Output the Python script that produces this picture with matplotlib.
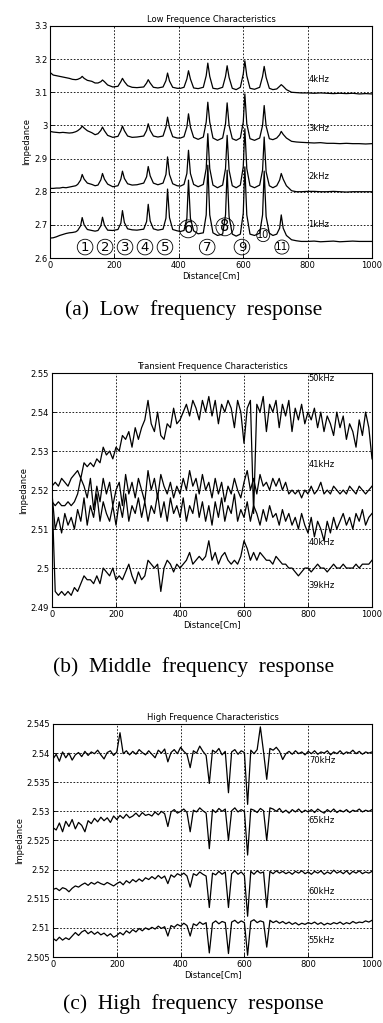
import matplotlib
matplotlib.use("Agg")
import matplotlib.pyplot as plt
import numpy as np
from matplotlib.ticker import FormatStrFormatter

# ---- (a) low frequency: distance samples and impedance per frequency ----
dist_low = [0, 10, 20, 30, 40, 50, 60, 70, 80,
            86, 95, 100, 106, 116, 130, 140,
            149, 158, 163, 169, 179, 195,
            211, 220, 225, 231, 241, 255, 270,
            291, 300, 305, 311, 321, 335,
            351, 360, 365, 371, 381, 395, 405,
            416, 425, 430, 436, 446, 460,
            476, 485, 490, 496, 506, 520,
            536, 545, 550, 556, 566, 578,
            591, 600, 605, 611, 621, 635,
            651, 660, 665, 671, 681, 692,
            704, 713, 718, 724, 734,
            750, 765, 780, 800, 820, 840, 860, 880, 900, 920, 940, 960, 980, 1000]

imp_1k = [2.660, 2.661, 2.664, 2.668, 2.671, 2.674, 2.676, 2.677, 2.679,
          2.683, 2.697, 2.722, 2.700, 2.686, 2.683, 2.681,
          2.683, 2.697, 2.723, 2.699, 2.684, 2.683,
          2.686, 2.705, 2.743, 2.707, 2.688, 2.685, 2.684,
          2.687, 2.710, 2.762, 2.712, 2.688, 2.684,
          2.687, 2.720, 2.808, 2.722, 2.686, 2.682, 2.680,
          2.683, 2.720, 2.835, 2.720, 2.682, 2.673,
          2.676, 2.730, 2.880, 2.730, 2.676, 2.668,
          2.672, 2.730, 2.865, 2.725, 2.672, 2.666,
          2.672, 2.735, 2.875, 2.730, 2.672, 2.668,
          2.675, 2.730, 2.862, 2.725, 2.675, 2.668,
          2.672, 2.690, 2.730, 2.690, 2.668,
          2.655, 2.652, 2.650, 2.650, 2.651, 2.649, 2.650, 2.651, 2.649, 2.650, 2.651, 2.650, 2.650, 2.650]

imp_2k = [2.810, 2.810, 2.811, 2.811, 2.813, 2.812, 2.814, 2.816, 2.818,
          2.822, 2.835, 2.852, 2.838, 2.826, 2.822, 2.818,
          2.820, 2.836, 2.855, 2.838, 2.823, 2.815,
          2.818, 2.838, 2.862, 2.840, 2.824, 2.820, 2.821,
          2.826, 2.845, 2.876, 2.848, 2.826, 2.821,
          2.826, 2.852, 2.905, 2.852, 2.824, 2.818, 2.817,
          2.822, 2.855, 2.925, 2.855, 2.822, 2.815,
          2.822, 2.870, 2.975, 2.870, 2.820, 2.812,
          2.820, 2.870, 2.970, 2.865, 2.818, 2.812,
          2.820, 2.875, 2.990, 2.870, 2.818, 2.812,
          2.820, 2.865, 2.965, 2.860, 2.818, 2.812,
          2.818, 2.835, 2.855, 2.838, 2.818,
          2.803, 2.800, 2.800, 2.801, 2.801, 2.800, 2.800, 2.801, 2.800, 2.799, 2.800, 2.800, 2.800, 2.800]

imp_3k = [2.982, 2.980, 2.979, 2.978, 2.979, 2.978, 2.977, 2.978, 2.981,
          2.984, 2.991, 2.998, 2.992, 2.984, 2.978, 2.972,
          2.975, 2.985, 2.995, 2.984, 2.970, 2.964,
          2.967, 2.984, 2.998, 2.984, 2.968, 2.964, 2.965,
          2.968, 2.985, 3.005, 2.985, 2.968, 2.965,
          2.968, 2.995, 3.025, 2.994, 2.966, 2.962, 2.962,
          2.966, 2.995, 3.035, 2.995, 2.964, 2.958,
          2.965, 3.010, 3.070, 3.010, 2.962, 2.955,
          2.962, 3.005, 3.068, 3.000, 2.960, 2.955,
          2.962, 3.010, 3.095, 3.005, 2.960, 2.955,
          2.962, 3.000, 3.060, 2.998, 2.960, 2.957,
          2.962, 2.972, 2.982, 2.973, 2.962,
          2.952, 2.950, 2.949, 2.948, 2.947, 2.948, 2.946, 2.946, 2.945, 2.946, 2.945, 2.945, 2.944, 2.945]

imp_4k = [3.160, 3.152, 3.150, 3.148, 3.146, 3.144, 3.142, 3.139, 3.138,
          3.139, 3.143, 3.148, 3.142, 3.136, 3.133, 3.128,
          3.128, 3.132, 3.137, 3.132, 3.122, 3.116,
          3.118, 3.132, 3.142, 3.132, 3.120, 3.115, 3.114,
          3.116, 3.128, 3.138, 3.128, 3.115, 3.113,
          3.116, 3.135, 3.158, 3.134, 3.115, 3.112, 3.112,
          3.115, 3.140, 3.165, 3.140, 3.113, 3.111,
          3.115, 3.150, 3.188, 3.148, 3.112, 3.110,
          3.115, 3.148, 3.180, 3.145, 3.112, 3.108,
          3.115, 3.155, 3.195, 3.150, 3.112, 3.109,
          3.115, 3.148, 3.178, 3.145, 3.112, 3.108,
          3.110, 3.118, 3.123, 3.118, 3.108,
          3.100, 3.099, 3.098, 3.098, 3.097, 3.098, 3.097, 3.096, 3.097, 3.096, 3.097, 3.095, 3.096, 3.095]

defect_ids = ["1", "2", "3", "4", "5", "6", "7", "8", "9", "10", "11"]
defect_x = [109, 171, 233, 295, 357, 429, 488, 543, 596, 662, 720]
defect_y = [2.633, 2.633, 2.633, 2.633, 2.633, 2.688, 2.633, 2.694, 2.633, 2.669, 2.633]
defect_size = [9.5, 9.5, 9.5, 9.5, 9.5, 10.5, 9.5, 10.5, 9.5, 7, 7.5]

# ---- (b) middle frequency, sampled every 10 cm ----
dist_grid = np.arange(0, 1001, 10)

imp_50k = [2.521, 2.522, 2.521, 2.523, 2.522, 2.521, 2.523, 2.524, 2.525, 2.523,
           2.527, 2.526, 2.527, 2.526, 2.528, 2.527, 2.531, 2.529, 2.530, 2.528,
           2.531, 2.530, 2.534, 2.533, 2.535, 2.531, 2.536, 2.533, 2.536, 2.538,
           2.543, 2.537, 2.535, 2.540, 2.534, 2.533, 2.537, 2.536, 2.541, 2.537,
           2.538, 2.540, 2.542, 2.539, 2.543, 2.541, 2.538, 2.543, 2.540, 2.544,
           2.539, 2.543, 2.537, 2.542, 2.540, 2.543, 2.541, 2.536, 2.543, 2.540,
           2.532, 2.541, 2.543, 2.514, 2.542, 2.540, 2.544, 2.535, 2.542, 2.540,
           2.543, 2.536, 2.542, 2.539, 2.543, 2.535, 2.541, 2.538, 2.542, 2.537,
           2.540, 2.538, 2.541, 2.536, 2.540, 2.535, 2.539, 2.537, 2.534, 2.540,
           2.536, 2.539, 2.533, 2.537, 2.535, 2.531, 2.538, 2.534, 2.540, 2.536,
           2.528]

imp_41k = [2.517, 2.516, 2.517, 2.516, 2.516, 2.517, 2.516, 2.517, 2.519, 2.523,
           2.521, 2.518, 2.523, 2.515, 2.521, 2.517, 2.523, 2.519, 2.522, 2.516,
           2.520, 2.522, 2.516, 2.524, 2.519, 2.522, 2.518, 2.523, 2.520, 2.517,
           2.525, 2.520, 2.523, 2.518, 2.524, 2.521, 2.519, 2.522, 2.518, 2.521,
           2.519, 2.523, 2.520, 2.525, 2.521, 2.523, 2.519, 2.524, 2.520, 2.522,
           2.518, 2.523, 2.519, 2.522, 2.517, 2.521, 2.519, 2.523, 2.520, 2.518,
           2.522, 2.525, 2.520, 2.523, 2.519, 2.524, 2.521, 2.522, 2.520, 2.523,
           2.521, 2.523, 2.520, 2.522, 2.519, 2.520, 2.519, 2.520, 2.518, 2.520,
           2.519, 2.521, 2.519, 2.520, 2.522, 2.519, 2.520, 2.519, 2.521, 2.520,
           2.519, 2.520, 2.519, 2.521, 2.520, 2.519, 2.521, 2.520, 2.519, 2.520,
           2.521]

imp_40k = [2.519, 2.510, 2.513, 2.509, 2.514, 2.511, 2.513, 2.510, 2.515, 2.512,
           2.518, 2.511, 2.516, 2.513, 2.519, 2.512, 2.517, 2.514, 2.512, 2.516,
           2.511, 2.517, 2.513, 2.519, 2.512, 2.516, 2.514, 2.518, 2.513, 2.517,
           2.512, 2.516, 2.514, 2.519, 2.513, 2.517, 2.512, 2.518, 2.514, 2.516,
           2.513, 2.518, 2.512, 2.516, 2.514, 2.519, 2.513, 2.517, 2.512, 2.516,
           2.511, 2.517, 2.513, 2.518, 2.512, 2.516, 2.514, 2.519, 2.512, 2.515,
           2.513, 2.517, 2.512, 2.516, 2.514, 2.511, 2.515, 2.512, 2.516, 2.513,
           2.514, 2.511, 2.515, 2.512, 2.514, 2.511, 2.513, 2.510, 2.514, 2.511,
           2.509, 2.513, 2.508, 2.512, 2.510, 2.507, 2.512, 2.509, 2.513, 2.510,
           2.512, 2.514, 2.511, 2.513, 2.510, 2.514, 2.512, 2.515, 2.511, 2.513,
           2.514]

imp_39k = [2.519, 2.494, 2.493, 2.494, 2.493, 2.494, 2.493, 2.495, 2.494, 2.496,
           2.498, 2.497, 2.497, 2.496, 2.498, 2.496, 2.500, 2.499, 2.498, 2.500,
           2.497, 2.498, 2.497, 2.499, 2.501, 2.498, 2.496, 2.499, 2.497, 2.498,
           2.502, 2.501, 2.500, 2.501, 2.494, 2.500, 2.502, 2.501, 2.499, 2.501,
           2.500, 2.501, 2.502, 2.504, 2.501, 2.502, 2.503, 2.502, 2.503, 2.507,
           2.502, 2.504, 2.501, 2.503, 2.504, 2.502, 2.501, 2.502, 2.501, 2.503,
           2.507, 2.505, 2.502, 2.504, 2.502, 2.504, 2.503, 2.502, 2.502, 2.501,
           2.503, 2.502, 2.501, 2.501, 2.500, 2.500, 2.499, 2.498, 2.499, 2.500,
           2.500, 2.499, 2.500, 2.501, 2.500, 2.500, 2.499, 2.500, 2.501, 2.500,
           2.500, 2.501, 2.500, 2.500, 2.500, 2.501, 2.500, 2.501, 2.501, 2.501,
           2.502]

# ---- (c) high frequency, sampled every 10 cm ----
imp_70k = [2.5390, 2.5398, 2.5386, 2.5402, 2.5392, 2.5400, 2.5388, 2.5397, 2.5401, 2.5394,
           2.5403, 2.5396, 2.5402, 2.5399, 2.5405, 2.5397, 2.5390, 2.5401, 2.5404, 2.5396,
           2.5402, 2.5435, 2.5399, 2.5404, 2.5397, 2.5403, 2.5398, 2.5406, 2.5401, 2.5397,
           2.5404, 2.5398, 2.5392, 2.5405, 2.5400, 2.5407, 2.5385, 2.5401, 2.5406, 2.5399,
           2.5410, 2.5403, 2.5398, 2.5375, 2.5404, 2.5400, 2.5412, 2.5403, 2.5396, 2.5348,
           2.5405, 2.5401, 2.5408, 2.5397, 2.5403, 2.5332, 2.5402, 2.5406, 2.5398, 2.5404,
           2.5401, 2.5312, 2.5405, 2.5399, 2.5406, 2.5445, 2.5402, 2.5355, 2.5408, 2.5405,
           2.5410, 2.5403, 2.5389, 2.5399, 2.5403, 2.5398, 2.5404, 2.5399, 2.5402, 2.5397,
           2.5403, 2.5399, 2.5404, 2.5398, 2.5402, 2.5400, 2.5404, 2.5397, 2.5402, 2.5399,
           2.5404, 2.5398, 2.5402, 2.5400, 2.5405, 2.5399, 2.5403, 2.5398, 2.5402, 2.5400,
           2.5402]

imp_65k = [2.5272, 2.5268, 2.5280, 2.5265, 2.5283, 2.5274, 2.5286, 2.5270, 2.5281, 2.5276,
           2.5265, 2.5284, 2.5279, 2.5288, 2.5282, 2.5290, 2.5284, 2.5289, 2.5281, 2.5292,
           2.5286, 2.5293, 2.5288, 2.5295, 2.5289, 2.5292, 2.5297, 2.5291, 2.5298, 2.5293,
           2.5295, 2.5292, 2.5299, 2.5294, 2.5300, 2.5296, 2.5274, 2.5299, 2.5303, 2.5297,
           2.5300, 2.5304, 2.5298, 2.5265, 2.5302, 2.5299, 2.5306, 2.5301, 2.5297, 2.5236,
           2.5303, 2.5298, 2.5305, 2.5300, 2.5304, 2.5250, 2.5301, 2.5306, 2.5299, 2.5303,
           2.5300, 2.5225, 2.5304, 2.5302, 2.5298, 2.5305, 2.5301, 2.5250, 2.5306, 2.5304,
           2.5300, 2.5305, 2.5298, 2.5302, 2.5297, 2.5303, 2.5299, 2.5304, 2.5298, 2.5302,
           2.5299, 2.5303, 2.5298, 2.5304, 2.5300, 2.5297, 2.5303, 2.5299, 2.5304, 2.5298,
           2.5302, 2.5299, 2.5303, 2.5298, 2.5302, 2.5300, 2.5304, 2.5299, 2.5302, 2.5300,
           2.5303]

imp_60k = [2.5166, 2.5168, 2.5164, 2.5169, 2.5167, 2.5162, 2.5168, 2.5172, 2.5170, 2.5174,
           2.5177, 2.5173, 2.5178, 2.5175, 2.5179, 2.5176, 2.5174, 2.5178, 2.5175, 2.5172,
           2.5176, 2.5179, 2.5174, 2.5181, 2.5177, 2.5183, 2.5179, 2.5184, 2.5180, 2.5186,
           2.5183, 2.5188, 2.5184, 2.5190, 2.5185, 2.5189, 2.5176, 2.5191, 2.5187, 2.5193,
           2.5190, 2.5194, 2.5189, 2.5170, 2.5193, 2.5190, 2.5196, 2.5192, 2.5189, 2.5135,
           2.5194, 2.5191, 2.5197, 2.5192, 2.5196, 2.5135, 2.5193, 2.5198, 2.5192, 2.5196,
           2.5190, 2.5120, 2.5197, 2.5192, 2.5198, 2.5194, 2.5196, 2.5135, 2.5197, 2.5193,
           2.5198, 2.5194, 2.5197, 2.5193, 2.5196, 2.5192, 2.5197, 2.5194, 2.5198, 2.5193,
           2.5196, 2.5192, 2.5197, 2.5194, 2.5198, 2.5192, 2.5196, 2.5193, 2.5199, 2.5194,
           2.5197, 2.5193, 2.5198, 2.5192, 2.5197, 2.5194, 2.5198, 2.5193, 2.5196, 2.5194,
           2.5197]

imp_55k = [2.5082, 2.5078, 2.5084, 2.5079, 2.5083, 2.5080, 2.5086, 2.5092, 2.5087, 2.5093,
           2.5096, 2.5090, 2.5094, 2.5089, 2.5093, 2.5088, 2.5091, 2.5086, 2.5090, 2.5084,
           2.5087, 2.5092, 2.5088, 2.5095, 2.5091, 2.5097, 2.5093, 2.5099, 2.5095, 2.5100,
           2.5097, 2.5101, 2.5098, 2.5103, 2.5099, 2.5102, 2.5086, 2.5104, 2.5101, 2.5106,
           2.5103, 2.5108, 2.5104, 2.5086, 2.5107, 2.5104, 2.5110, 2.5106, 2.5109, 2.5057,
           2.5108, 2.5112, 2.5107, 2.5111, 2.5109, 2.5056, 2.5110, 2.5113, 2.5108, 2.5112,
           2.5109, 2.5053, 2.5111, 2.5114, 2.5109, 2.5112, 2.5110, 2.5067, 2.5113, 2.5109,
           2.5112, 2.5108, 2.5111, 2.5107, 2.5110, 2.5106, 2.5109, 2.5105, 2.5108, 2.5106,
           2.5109, 2.5107, 2.5110, 2.5106, 2.5109, 2.5105, 2.5108, 2.5106, 2.5109, 2.5107,
           2.5110, 2.5106, 2.5109, 2.5107, 2.5111, 2.5108, 2.5110, 2.5109, 2.5112, 2.5110,
           2.5113]


def style_axes(ax, title, ylim, yticks):
    ax.set_xlim(0, 1000)
    ax.set_ylim(*ylim)
    ax.set_xticks(range(0, 1001, 200))
    ax.set_yticks(yticks)
    ax.yaxis.set_major_formatter(FormatStrFormatter('%g'))
    ax.grid(True, color='black', linestyle=(0, (2, 2)), linewidth=0.6)
    ax.tick_params(direction='in', labelsize=6, length=3, width=0.6, pad=2)
    ax.set_title(title, fontsize=6, pad=3)
    ax.set_xlabel('Distance[Cm]', fontsize=6, labelpad=1)
    ax.set_ylabel('Impedance', fontsize=6, labelpad=2)
    for s in ax.spines.values():
        s.set_linewidth(0.8)


fig = plt.figure(figsize=(3.83, 10.23), dpi=100)
ax1 = fig.add_axes([0.1305, 0.7478, 0.841, 0.2268])
ax2 = fig.add_axes([0.1358, 0.4066, 0.8355, 0.2287])
ax3 = fig.add_axes([0.1384, 0.0645, 0.8329, 0.2278])

lw = 0.9
for ys in (imp_1k, imp_2k, imp_3k, imp_4k):
    ax1.plot(dist_low, ys, color='black', linewidth=lw)
for name, xp, yp, fs in zip(defect_ids, defect_x, defect_y, defect_size):
    ax1.text(xp, yp, name, fontsize=fs, ha='center', va='center',
             bbox=dict(boxstyle='circle,pad=%s' % (0.04 if len(name) > 1 else 0.1),
                       fc='none', ec='black', lw=0.6))
for lab, yp in [('4kHz', 3.14), ('3kHz', 2.99), ('2kHz', 2.845), ('1kHz', 2.70)]:
    ax1.text(802, yp, lab, fontsize=6, va='center')
style_axes(ax1, 'Low Frequence Characteristics', (2.6, 3.3), np.arange(2.6, 3.31, 0.1))

for ys in (imp_50k, imp_41k, imp_40k, imp_39k):
    ax2.plot(dist_grid, ys, color='black', linewidth=lw)
for lab, yp in [('50kHz', 2.5485), ('41kHz', 2.5265), ('40kHz', 2.5065), ('39kHz', 2.4955)]:
    ax2.text(802, yp, lab, fontsize=6, va='center')
style_axes(ax2, 'Transient Frequence Characteristics', (2.49, 2.55), np.arange(2.49, 2.551, 0.01))

for ys in (imp_70k, imp_65k, imp_60k, imp_55k):
    ax3.plot(dist_grid, ys, color='black', linewidth=lw)
for lab, yp in [('70kHz', 2.5388), ('65kHz', 2.5285), ('60kHz', 2.5162), ('55kHz', 2.5079)]:
    ax3.text(802, yp, lab, fontsize=6, va='center')
style_axes(ax3, 'High Frequence Characteristics', (2.505, 2.545), np.arange(2.505, 2.5451, 0.005))

cap = dict(fontsize=15.5, family='Liberation Serif', ha='center', va='center')
fig.text(0.505, 0.697, '(a)  Low  frequency  response', **cap)
fig.text(0.505, 0.348, '(b)  Middle  frequency  response', **cap)
fig.text(0.505, 0.0185, '(c)  High  frequency  response', **cap)

fig.savefig('out.png', dpi=100)
